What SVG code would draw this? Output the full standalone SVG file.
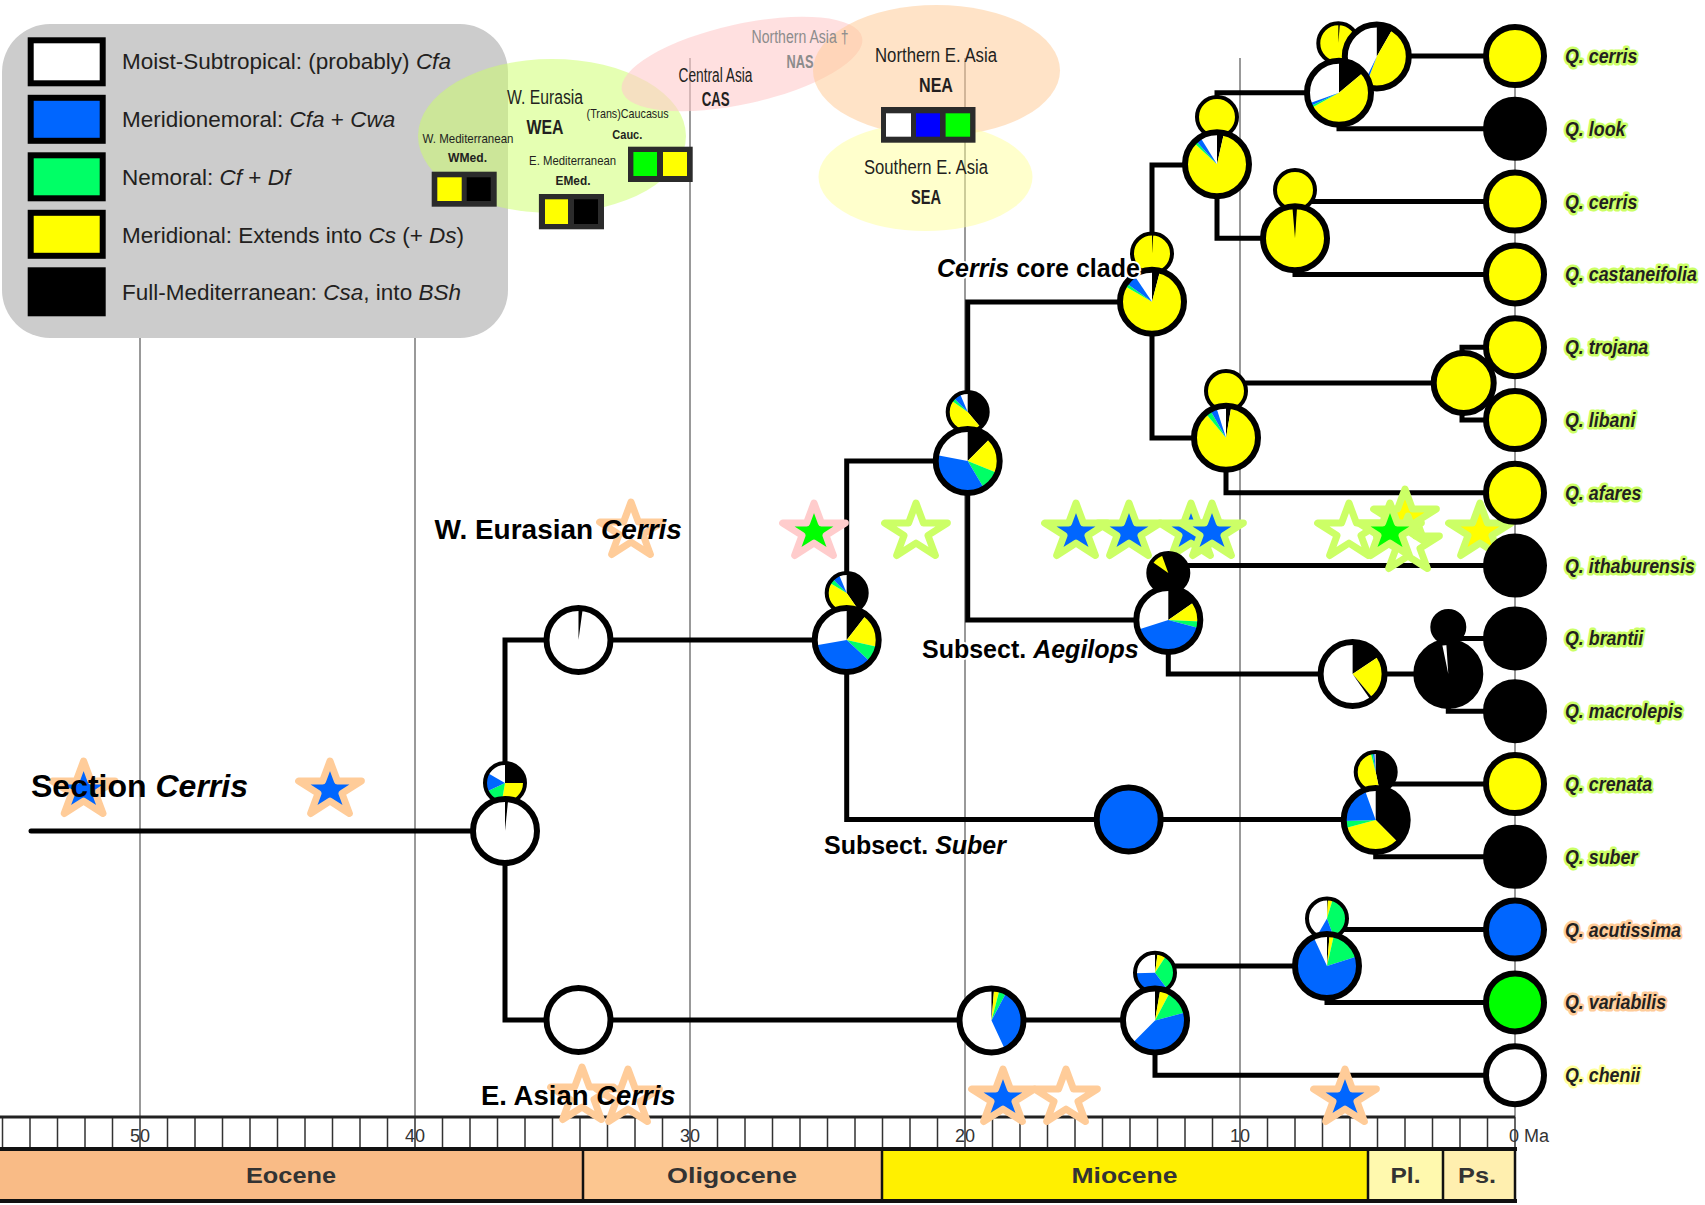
<svg xmlns="http://www.w3.org/2000/svg" width="1705" height="1205" viewBox="0 0 1705 1205">
<style>
text{font-family:"Liberation Sans",Arial,sans-serif;fill:#231f20}
.grid{stroke:#808080;stroke-width:1.6}
.conn{fill:none;stroke:#000;stroke-width:5;stroke-linejoin:miter}
.ring{fill:none;stroke:#000;stroke-width:6}
.ring4{fill:none;stroke:#000;stroke-width:4}
.rf{stroke:#000;stroke-width:6}
.rf4{stroke:#000;stroke-width:4}
.L{fill:none;stroke-width:32}
.S{fill:none;stroke-width:20}
.k{stroke:#000}.y{stroke:#ffff00}.g{stroke:#00ff66}.b{stroke:#0066ff}.w{stroke:#fff}
.tip{stroke:#000;stroke-width:6}
.lbl{font-weight:bold;fill:#000}
.halo{stroke:#fff;stroke-width:4;stroke-linejoin:round;paint-order:stroke}
.tipl{font-weight:bold;font-style:italic;font-size:21px;stroke-width:5;stroke-linejoin:round;paint-order:stroke}
.hg{stroke:#ccff66}.ho{stroke:#ffcc99}.hy{stroke:#ffff99}
.reg{font-size:20px}
.regb{font-size:20px;font-weight:bold}
.sm{font-size:13.5px}
.smb{font-size:13.5px;font-weight:bold}
.leg{font-size:22.5px}
.sw{stroke:#000;stroke-width:6}
.box{fill:#2b2b2b}
.tick{font-size:18px;fill:#333}
.ep{font-size:22px;font-weight:bold;fill:#333}
.st{stroke-width:7;stroke-linejoin:round}
</style>
<defs>
<path id="star" d="M0,-29 L7.41,-8.96 L31.39,-8.96 L11.98,3.42 L19.4,23.46 L0,11.08 L-19.4,23.46 L-11.98,3.42 L-31.39,-8.96 L-7.41,-8.96 Z"/>
</defs>
<rect width="1705" height="1205" fill="#fff"/>

<g id="gridlines">
<path class="grid" d="M140 58V1117 M415 58V1117 M690 58V1117 M965 58V1117 M1240 58V1117 M1515 58V1117"/>
</g>

<g id="axis">
<rect x="0" y="1117" width="1515" height="32" fill="#fff"/>
<path stroke="#333" stroke-width="1.5" d="M1515 1117V1149 M1487.5 1117V1149 M1460 1117V1149 M1432.5 1117V1149 M1405 1117V1149 M1377.5 1117V1149 M1350 1117V1149 M1322.5 1117V1149 M1295 1117V1149 M1267.5 1117V1149 M1240 1117V1149 M1212.5 1117V1149 M1185 1117V1149 M1157.5 1117V1149 M1130 1117V1149 M1102.5 1117V1149 M1075 1117V1149 M1047.5 1117V1149 M1020 1117V1149 M992.5 1117V1149 M965 1117V1149 M937.5 1117V1149 M910 1117V1149 M882.5 1117V1149 M855 1117V1149 M827.5 1117V1149 M800 1117V1149 M772.5 1117V1149 M745 1117V1149 M717.5 1117V1149 M690 1117V1149 M662.5 1117V1149 M635 1117V1149 M607.5 1117V1149 M580 1117V1149 M552.5 1117V1149 M525 1117V1149 M497.5 1117V1149 M470 1117V1149 M442.5 1117V1149 M415 1117V1149 M387.5 1117V1149 M360 1117V1149 M332.5 1117V1149 M305 1117V1149 M277.5 1117V1149 M250 1117V1149 M222.5 1117V1149 M195 1117V1149 M167.5 1117V1149 M140 1117V1149 M112.5 1117V1149 M85 1117V1149 M57.5 1117V1149 M30 1117V1149 M2.5 1117V1149"/>
<path stroke="#222" stroke-width="3" d="M0 1117H1515"/>
<text class="tick" x="140" y="1142" text-anchor="middle">50</text>
<text class="tick" x="415" y="1142" text-anchor="middle">40</text>
<text class="tick" x="690" y="1142" text-anchor="middle">30</text>
<text class="tick" x="965" y="1142" text-anchor="middle">20</text>
<text class="tick" x="1240" y="1142" text-anchor="middle">10</text>
<text class="tick" x="1509" y="1142">0 Ma</text>
<rect x="0" y="1149" width="583" height="51" fill="#f9bb86"/>
<rect x="583" y="1149" width="299" height="51" fill="#fcc690"/>
<rect x="882" y="1149" width="486" height="51" fill="#fff000"/>
<rect x="1368" y="1149" width="75" height="51" fill="#fff9ae"/>
<rect x="1443" y="1149" width="72" height="51" fill="#ffefaf"/>
<path stroke="#111" stroke-width="4" fill="none" d="M0 1149H1517 M0 1201H1517"/>
<path stroke="#111" stroke-width="2.5" d="M583 1149V1201 M882 1149V1201 M1368 1149V1201 M1443 1149V1201 M1515 1149V1201"/>
<text class="ep" x="291" y="1183" text-anchor="middle" textLength="90" lengthAdjust="spacingAndGlyphs">Eocene</text>
<text class="ep" x="732" y="1183" text-anchor="middle" textLength="130" lengthAdjust="spacingAndGlyphs">Oligocene</text>
<text class="ep" x="1124.5" y="1183" text-anchor="middle" textLength="106" lengthAdjust="spacingAndGlyphs">Miocene</text>
<text class="ep" x="1405.5" y="1183" text-anchor="middle" textLength="30" lengthAdjust="spacingAndGlyphs">Pl.</text>
<text class="ep" x="1477" y="1183" text-anchor="middle" textLength="38" lengthAdjust="spacingAndGlyphs">Ps.</text>
</g>

<g id="legend">
<rect x="2" y="24" width="506" height="314" rx="48" fill="#cccccc"/>
<rect class="sw" x="30.7" y="40.3" width="72" height="43" fill="#fff"/>
<rect class="sw" x="30.7" y="97.8" width="72" height="43" fill="#0066ff"/>
<rect class="sw" x="30.7" y="155.3" width="72" height="43" fill="#00ff66"/>
<rect class="sw" x="30.7" y="212.8" width="72" height="43" fill="#ffff00"/>
<rect class="sw" x="30.7" y="270.3" width="72" height="43" fill="#000"/>
<text class="leg" x="122" y="69">Moist-Subtropical: (probably) <tspan font-style="italic">Cfa</tspan></text>
<text class="leg" x="122" y="127">Meridionemoral: <tspan font-style="italic">Cfa</tspan> + <tspan font-style="italic">Cwa</tspan></text>
<text class="leg" x="122" y="185">Nemoral: <tspan font-style="italic">Cf</tspan> + <tspan font-style="italic">Df</tspan></text>
<text class="leg" x="122" y="242.5">Meridional: Extends into <tspan font-style="italic">Cs</tspan> (+ <tspan font-style="italic">Ds</tspan>)</text>
<text class="leg" x="122" y="300">Full-Mediterranean: <tspan font-style="italic">Csa</tspan>, into <tspan font-style="italic">BSh</tspan></text>
</g>

<g id="regions">
<ellipse cx="552" cy="136" rx="134" ry="77" fill="#ccff66" opacity="0.5"/>
<ellipse cx="742" cy="64" rx="123" ry="40" fill="#ffcccc" opacity="0.6" transform="rotate(-12.5 742 64)"/>
<ellipse cx="936.5" cy="70.5" rx="123.5" ry="65.5" fill="#ffcc99" opacity="0.55"/>
<ellipse cx="925.5" cy="177" rx="107" ry="54" fill="#ffff99" opacity="0.5"/>
<g id="box-wmed"><rect class="box" x="431.7" y="171.7" width="65" height="35"/><rect x="437.3" y="177.3" width="24.4" height="23.7" fill="#ffff00"/><rect x="466.7" y="177.3" width="24" height="23.7" fill="#000"/></g>
<g id="box-emed"><rect class="box" x="538.9" y="194" width="65.1" height="35.3"/><rect x="545" y="199.3" width="23" height="24.7" fill="#ffff00"/><rect x="574" y="199.3" width="24" height="24.7" fill="#000"/></g>
<g id="box-cauc"><rect class="box" x="628" y="146.7" width="64.7" height="35.3"/><rect x="633.4" y="152" width="23.6" height="24" fill="#00ff00"/><rect x="663" y="152" width="24" height="24" fill="#ffff00"/></g>
<g id="box-nea"><rect class="box" x="881" y="107" width="94.5" height="35.7"/><rect x="886" y="113.3" width="25" height="23.4" fill="#fff"/><rect x="916" y="113.3" width="24" height="23.4" fill="#0000ff"/><rect x="945.6" y="113.3" width="24.5" height="23.4" fill="#00ff00"/></g>
<text class="reg" x="545" y="104" text-anchor="middle" textLength="76" lengthAdjust="spacingAndGlyphs">W. Eurasia</text>
<text class="regb" x="545" y="134" text-anchor="middle" textLength="37" lengthAdjust="spacingAndGlyphs">WEA</text>
<text class="sm" x="468" y="142.5" text-anchor="middle" textLength="91" lengthAdjust="spacingAndGlyphs">W. Mediterranean</text>
<text class="smb" x="467.5" y="161.7" text-anchor="middle" textLength="39" lengthAdjust="spacingAndGlyphs">WMed.</text>
<text class="sm" x="627.6" y="118.3" text-anchor="middle" textLength="82" lengthAdjust="spacingAndGlyphs">(Trans)Caucasus</text>
<text class="smb" x="627.3" y="139.3" text-anchor="middle" textLength="30" lengthAdjust="spacingAndGlyphs">Cauc.</text>
<text class="sm" x="572.6" y="165" text-anchor="middle" textLength="87" lengthAdjust="spacingAndGlyphs">E. Mediterranean</text>
<text class="smb" x="573" y="185" text-anchor="middle" textLength="35" lengthAdjust="spacingAndGlyphs">EMed.</text>
<text class="reg" x="715.5" y="81.7" font-size="18.5" text-anchor="middle" textLength="74" lengthAdjust="spacingAndGlyphs">Central Asia</text>
<text class="regb" x="715.7" y="106" font-size="18.5" text-anchor="middle" textLength="28" lengthAdjust="spacingAndGlyphs">CAS</text>
<text class="reg" x="800" y="43.3" style="fill:#8c8c8c;font-size:18px" text-anchor="middle" textLength="97" lengthAdjust="spacingAndGlyphs">Northern Asia †</text>
<text class="regb" x="800" y="68.3" style="fill:#8c8c8c;font-size:18px" text-anchor="middle" textLength="27" lengthAdjust="spacingAndGlyphs">NAS</text>
<text class="reg" x="936" y="61.7" text-anchor="middle" textLength="122" lengthAdjust="spacingAndGlyphs">Northern E. Asia</text>
<text class="regb" x="936" y="91.7" text-anchor="middle" textLength="34" lengthAdjust="spacingAndGlyphs">NEA</text>
<text class="reg" x="926" y="174" text-anchor="middle" textLength="124" lengthAdjust="spacingAndGlyphs">Southern E. Asia</text>
<text class="regb" x="926" y="204" text-anchor="middle" textLength="30" lengthAdjust="spacingAndGlyphs">SEA</text>
</g>

<g id="connectors">
<path class="conn" stroke-linecap="round" d="M31 831H505"/>
<path class="conn" d="M846.7 640H505V1020H1155"/>
<path class="conn" d="M967.7 461H846.7V819.5H1375.7"/>
<path class="conn" d="M1515 784H1375.7V856.8H1515"/>
<path class="conn" d="M1152 302H967.7V620H1168.3"/>
<path class="conn" d="M1217 165H1152V438H1226"/>
<path class="conn" d="M1339 92.7H1217V238.3H1295"/>
<path class="conn" d="M1515 56H1339V128.8H1515"/>
<path class="conn" d="M1515 201.6H1295V274.4H1515"/>
<path class="conn" d="M1463.7 383H1226V492.8H1515"/>
<path class="conn" d="M1515 347.2H1462V420H1515"/>
<path class="conn" d="M1515 565.6H1168.3V674H1448.3"/>
<path class="conn" d="M1515 638.4H1448.3V711.2H1515"/>
<path class="conn" d="M1327 966H1155V1075.2H1515"/>
<path class="conn" d="M1515 929.6H1327V1002.4H1515"/>
</g>

<g id="stars" class="st">
<use href="#star" x="83.6" y="790" fill="#0066ff" stroke="#ffcc99"/>
<use href="#star" x="330" y="790" fill="#0066ff" stroke="#ffcc99"/>
<use href="#star" x="631" y="531" fill="#fff" stroke="#ffcc99"/>
<use href="#star" x="814" y="532" fill="#00ff00" stroke="#ffcccc"/>
<use href="#star" x="916" y="532" fill="#fff" stroke="#ccff66"/>
<use href="#star" x="1076" y="532" fill="#0066ff" stroke="#ccff66"/>
<use href="#star" x="1129" y="532" fill="#0066ff" stroke="#ccff66"/>
<use href="#star" x="1191" y="532" fill="#0066ff" stroke="#ccff66"/>
<use href="#star" x="1212" y="532" fill="#0066ff" stroke="#ccff66"/>
<use href="#star" x="1480" y="532" fill="#ffff00" stroke="#ccff66"/>
<use href="#star" x="1349" y="532" fill="#fff" stroke="#ccff66"/>
<use href="#star" x="1405" y="518" fill="#ffff00" stroke="#ccff66"/>
<use href="#star" x="1408" y="545" fill="#fff" fill-opacity="0" stroke="#ccff66"/>
<use href="#star" x="1390" y="532" fill="#00ff00" stroke="#ccff66"/>
<use href="#star" x="582" y="1096" fill="#fff" stroke="#ffcc99"/>
<use href="#star" x="628" y="1098" fill="#fff" stroke="#ffcc99"/>
<use href="#star" x="1003" y="1098" fill="#0066ff" stroke="#ffcc99"/>
<use href="#star" x="1066" y="1098" fill="#fff" stroke="#ffcc99"/>
<use href="#star" x="1345" y="1098" fill="#0066ff" stroke="#ffcc99"/>
</g>

<g id="node-root-small" transform="translate(505 783)"><circle r="20" fill="#fff"/>
<circle r="10" class="S k" pathLength="360" transform="rotate(-90)" stroke-dasharray="90 360"/>
<circle r="10" class="S y" pathLength="360" transform="rotate(-90)" stroke-dasharray="100 360" stroke-dashoffset="-90"/>
<circle r="10" class="S g" pathLength="360" transform="rotate(-90)" stroke-dasharray="55 360" stroke-dashoffset="-190"/>
<circle r="10" class="S b" pathLength="360" transform="rotate(-90)" stroke-dasharray="55 360" stroke-dashoffset="-245"/>
<circle r="20" class="ring4"/></g>
<g id="node-root" transform="translate(505 831)"><circle r="32" fill="#fff"/>
<circle r="16" class="L k" pathLength="360" transform="rotate(-90)" stroke-dasharray="6 360"/>
<circle r="32" class="ring"/></g>

<g id="node-weurasia" transform="translate(578.5 640)"><circle r="32" fill="#fff"/>
<circle r="16" class="L k" pathLength="360" transform="rotate(-90)" stroke-dasharray="8 360"/>
<circle r="32" class="ring"/></g>

<g id="node-easia" transform="translate(578.5 1020)"><circle r="32" fill="#fff" class="rf"/></g>

<g id="node-b1-small" transform="translate(846.7 593)"><circle r="20" fill="#fff"/>
<circle r="10" class="S k" pathLength="360" transform="rotate(-90)" stroke-dasharray="145 360"/>
<circle r="10" class="S y" pathLength="360" transform="rotate(-90)" stroke-dasharray="156 360" stroke-dashoffset="-145"/>
<circle r="10" class="S g" pathLength="360" transform="rotate(-90)" stroke-dasharray="14 360" stroke-dashoffset="-301"/>
<circle r="10" class="S b" pathLength="360" transform="rotate(-90)" stroke-dasharray="22 360" stroke-dashoffset="-315"/>
<circle r="20" class="ring4"/></g>
<g id="node-b1" transform="translate(846.7 640)"><circle r="32" fill="#fff"/>
<circle r="16" class="L k" pathLength="360" transform="rotate(-90)" stroke-dasharray="38 360"/>
<circle r="16" class="L y" pathLength="360" transform="rotate(-90)" stroke-dasharray="65 360" stroke-dashoffset="-38"/>
<circle r="16" class="L g" pathLength="360" transform="rotate(-90)" stroke-dasharray="30 360" stroke-dashoffset="-103"/>
<circle r="16" class="L b" pathLength="360" transform="rotate(-90)" stroke-dasharray="127 360" stroke-dashoffset="-133"/>
<circle r="32" class="ring"/></g>

<g id="node-n-small" transform="translate(967.7 412)"><circle r="20" fill="#fff"/>
<circle r="10" class="S k" pathLength="360" transform="rotate(-90)" stroke-dasharray="140 360"/>
<circle r="10" class="S y" pathLength="360" transform="rotate(-90)" stroke-dasharray="165 360" stroke-dashoffset="-140"/>
<circle r="10" class="S g" pathLength="360" transform="rotate(-90)" stroke-dasharray="10 360" stroke-dashoffset="-305"/>
<circle r="10" class="S b" pathLength="360" transform="rotate(-90)" stroke-dasharray="22 360" stroke-dashoffset="-315"/>
<circle r="20" class="ring4"/></g>
<g id="node-n" transform="translate(967.7 461)"><circle r="32" fill="#fff"/>
<circle r="16" class="L k" pathLength="360" transform="rotate(-90)" stroke-dasharray="45 360"/>
<circle r="16" class="L y" pathLength="360" transform="rotate(-90)" stroke-dasharray="67 360" stroke-dashoffset="-45"/>
<circle r="16" class="L g" pathLength="360" transform="rotate(-90)" stroke-dasharray="37 360" stroke-dashoffset="-112"/>
<circle r="16" class="L b" pathLength="360" transform="rotate(-90)" stroke-dasharray="132 360" stroke-dashoffset="-149"/>
<circle r="32" class="ring"/></g>

<g id="node-core-small" transform="translate(1152 253.5)"><circle r="20" fill="#ffff00"/>
<circle r="10" class="S k" pathLength="360" transform="rotate(-90)" stroke-dasharray="4 360"/>
<circle r="20" class="ring4"/></g>
<g id="node-core" transform="translate(1152 301.7)"><circle r="32" fill="#fff"/>
<circle r="16" class="L k" pathLength="360" transform="rotate(-90)" stroke-dasharray="15 360"/>
<circle r="16" class="L y" pathLength="360" transform="rotate(-90)" stroke-dasharray="285 360" stroke-dashoffset="-15"/>
<circle r="16" class="L g" pathLength="360" transform="rotate(-90)" stroke-dasharray="6 360" stroke-dashoffset="-300"/>
<circle r="16" class="L b" pathLength="360" transform="rotate(-90)" stroke-dasharray="20 360" stroke-dashoffset="-306"/>
<circle r="32" class="ring"/></g>

<g id="node-a-small" transform="translate(1217 117)"><circle r="20" fill="#ffff00" class="rf4"/></g>
<g id="node-a" transform="translate(1217 164.3)"><circle r="32" fill="#fff"/>
<circle r="16" class="L k" pathLength="360" transform="rotate(-90)" stroke-dasharray="13 360"/>
<circle r="16" class="L y" pathLength="360" transform="rotate(-90)" stroke-dasharray="300 360" stroke-dashoffset="-13"/>
<circle r="16" class="L g" pathLength="360" transform="rotate(-90)" stroke-dasharray="5 360" stroke-dashoffset="-313"/>
<circle r="16" class="L b" pathLength="360" transform="rotate(-90)" stroke-dasharray="10 360" stroke-dashoffset="-318"/>
<circle r="32" class="ring"/></g>

<g id="node-b-small" transform="translate(1338.3 43.3)"><circle r="20" fill="#ffff00"/>
<circle r="10" class="S k" pathLength="360" transform="rotate(-90)" stroke-dasharray="5 360"/>
<circle r="20" class="ring4"/></g>
<g id="node-b-upper" transform="translate(1376.8 56.5)"><circle r="32" fill="#fff"/>
<circle r="16" class="L k" pathLength="360" transform="rotate(-90)" stroke-dasharray="30 360"/>
<circle r="16" class="L y" pathLength="360" transform="rotate(-90)" stroke-dasharray="171 360" stroke-dashoffset="-30"/>
<circle r="16" class="L b" pathLength="360" transform="rotate(-90)" stroke-dasharray="5 360" stroke-dashoffset="-201"/>
<circle r="32" class="ring"/></g>
<g id="node-b" transform="translate(1339 92.7)"><circle r="32" fill="#fff"/>
<circle r="16" class="L k" pathLength="360" transform="rotate(-90)" stroke-dasharray="50 360"/>
<circle r="16" class="L y" pathLength="360" transform="rotate(-90)" stroke-dasharray="191 360" stroke-dashoffset="-50"/>
<circle r="16" class="L g" pathLength="360" transform="rotate(-90)" stroke-dasharray="4 360" stroke-dashoffset="-241"/>
<circle r="16" class="L b" pathLength="360" transform="rotate(-90)" stroke-dasharray="5 360" stroke-dashoffset="-245"/>
<circle r="32" class="ring"/></g>

<g id="node-c-small" transform="translate(1295 190)"><circle r="20" fill="#ffff00" class="rf4"/></g>
<g id="node-c" transform="translate(1295 238.3)"><circle r="32" fill="#ffff00"/>
<circle r="16" class="L k" pathLength="360" transform="rotate(-90)" stroke-dasharray="5 360" stroke-dashoffset="-355"/>
<circle r="16" class="L k" pathLength="360" transform="rotate(-90)" stroke-dasharray="4 360"/>
<circle r="32" class="ring"/></g>

<g id="node-d-small" transform="translate(1226 391)"><circle r="20" fill="#ffff00" class="rf4"/></g>
<g id="node-d" transform="translate(1226 437.7)"><circle r="32" fill="#fff"/>
<circle r="16" class="L k" pathLength="360" transform="rotate(-90)" stroke-dasharray="10 360"/>
<circle r="16" class="L y" pathLength="360" transform="rotate(-90)" stroke-dasharray="310 360" stroke-dashoffset="-10"/>
<circle r="16" class="L g" pathLength="360" transform="rotate(-90)" stroke-dasharray="10 360" stroke-dashoffset="-320"/>
<circle r="16" class="L b" pathLength="360" transform="rotate(-90)" stroke-dasharray="12 360" stroke-dashoffset="-330"/>
<circle r="32" class="ring"/></g>

<g id="node-e" transform="translate(1463.7 383)"><circle r="30" fill="#ffff00" class="rf"/></g>

<g id="node-f-small" transform="translate(1168.3 573)"><circle r="20" fill="#000"/>
<circle r="10" class="S y" pathLength="360" transform="rotate(-90)" stroke-dasharray="35 360" stroke-dashoffset="-305"/>
<circle r="20" class="ring4"/></g>
<g id="node-f" transform="translate(1168.3 620)"><circle r="32" fill="#fff"/>
<circle r="16" class="L k" pathLength="360" transform="rotate(-90)" stroke-dasharray="55 360"/>
<circle r="16" class="L y" pathLength="360" transform="rotate(-90)" stroke-dasharray="38 360" stroke-dashoffset="-55"/>
<circle r="16" class="L g" pathLength="360" transform="rotate(-90)" stroke-dasharray="12 360" stroke-dashoffset="-93"/>
<circle r="16" class="L b" pathLength="360" transform="rotate(-90)" stroke-dasharray="147 360" stroke-dashoffset="-105"/>
<circle r="32" class="ring"/></g>

<g id="node-g" transform="translate(1352.6 674)"><circle r="32" fill="#fff"/>
<circle r="16" class="L k" pathLength="360" transform="rotate(-90)" stroke-dasharray="56 360"/>
<circle r="16" class="L y" pathLength="360" transform="rotate(-90)" stroke-dasharray="84 360" stroke-dashoffset="-56"/>
<circle r="16" class="L k" pathLength="360" transform="rotate(-90)" stroke-dasharray="5 360" stroke-dashoffset="-140"/>
<circle r="32" class="ring"/></g>

<g id="node-h-small" transform="translate(1448.3 627)"><circle r="16" fill="#000" class="rf4"/></g>
<g id="node-h" transform="translate(1448.3 674)"><circle r="32" fill="#000"/>
<circle r="16" class="L w" pathLength="360" transform="rotate(-90)" stroke-dasharray="8 360" stroke-dashoffset="-348"/>
<circle r="32" class="ring"/></g>

<g id="node-suber1" transform="translate(1128.7 819.5)"><circle r="32" fill="#0066ff" class="rf"/></g>

<g id="node-s-small" transform="translate(1375.7 772)"><circle r="20" fill="#fff"/>
<circle r="10" class="S k" pathLength="360" transform="rotate(-90)" stroke-dasharray="168 360"/>
<circle r="10" class="S y" pathLength="360" transform="rotate(-90)" stroke-dasharray="177 360" stroke-dashoffset="-168"/>
<circle r="10" class="S g" pathLength="360" transform="rotate(-90)" stroke-dasharray="6 360" stroke-dashoffset="-345"/>
<circle r="10" class="S b" pathLength="360" transform="rotate(-90)" stroke-dasharray="5 360" stroke-dashoffset="-351"/>
<circle r="20" class="ring4"/></g>
<g id="node-s" transform="translate(1375.7 820)"><circle r="32" fill="#fff"/>
<circle r="16" class="L k" pathLength="360" transform="rotate(-90)" stroke-dasharray="135 360"/>
<circle r="16" class="L y" pathLength="360" transform="rotate(-90)" stroke-dasharray="120 360" stroke-dashoffset="-135"/>
<circle r="16" class="L g" pathLength="360" transform="rotate(-90)" stroke-dasharray="13 360" stroke-dashoffset="-255"/>
<circle r="16" class="L b" pathLength="360" transform="rotate(-90)" stroke-dasharray="72 360" stroke-dashoffset="-268"/>
<circle r="32" class="ring"/></g>

<g id="node-e1" transform="translate(991.5 1020.5)"><circle r="32" fill="#fff"/>
<circle r="16" class="L k" pathLength="360" transform="rotate(-90)" stroke-dasharray="5 360"/>
<circle r="16" class="L y" pathLength="360" transform="rotate(-90)" stroke-dasharray="10 360" stroke-dashoffset="-5"/>
<circle r="16" class="L g" pathLength="360" transform="rotate(-90)" stroke-dasharray="13 360" stroke-dashoffset="-15"/>
<circle r="16" class="L b" pathLength="360" transform="rotate(-90)" stroke-dasharray="127 360" stroke-dashoffset="-28"/>
<circle r="32" class="ring"/></g>

<g id="node-e2-small" transform="translate(1155 972.7)"><circle r="20" fill="#fff"/>
<circle r="10" class="S k" pathLength="360" transform="rotate(-90)" stroke-dasharray="8 360"/>
<circle r="10" class="S y" pathLength="360" transform="rotate(-90)" stroke-dasharray="25 360" stroke-dashoffset="-8"/>
<circle r="10" class="S g" pathLength="360" transform="rotate(-90)" stroke-dasharray="110 360" stroke-dashoffset="-33"/>
<circle r="10" class="S b" pathLength="360" transform="rotate(-90)" stroke-dasharray="125 360" stroke-dashoffset="-143"/>
<circle r="20" class="ring4"/></g>
<g id="node-e2" transform="translate(1155 1020.5)"><circle r="32" fill="#fff"/>
<circle r="16" class="L k" pathLength="360" transform="rotate(-90)" stroke-dasharray="10 360"/>
<circle r="16" class="L y" pathLength="360" transform="rotate(-90)" stroke-dasharray="18 360" stroke-dashoffset="-10"/>
<circle r="16" class="L g" pathLength="360" transform="rotate(-90)" stroke-dasharray="47 360" stroke-dashoffset="-28"/>
<circle r="16" class="L b" pathLength="360" transform="rotate(-90)" stroke-dasharray="150 360" stroke-dashoffset="-75"/>
<circle r="32" class="ring"/></g>

<g id="node-av-small" transform="translate(1327 918.5)"><circle r="20" fill="#fff"/>
<circle r="10" class="S k" pathLength="360" transform="rotate(-90)" stroke-dasharray="3 360"/>
<circle r="10" class="S y" pathLength="360" transform="rotate(-90)" stroke-dasharray="14 360" stroke-dashoffset="-3"/>
<circle r="10" class="S g" pathLength="360" transform="rotate(-90)" stroke-dasharray="143 360" stroke-dashoffset="-17"/>
<circle r="10" class="S b" pathLength="360" transform="rotate(-90)" stroke-dasharray="50 360" stroke-dashoffset="-160"/>
<circle r="20" class="ring4"/></g>
<g id="node-av" transform="translate(1327 966)"><circle r="32" fill="#fff"/>
<circle r="16" class="L k" pathLength="360" transform="rotate(-90)" stroke-dasharray="5 360"/>
<circle r="16" class="L y" pathLength="360" transform="rotate(-90)" stroke-dasharray="8 360" stroke-dashoffset="-5"/>
<circle r="16" class="L g" pathLength="360" transform="rotate(-90)" stroke-dasharray="59 360" stroke-dashoffset="-13"/>
<circle r="16" class="L b" pathLength="360" transform="rotate(-90)" stroke-dasharray="263 360" stroke-dashoffset="-72"/>
<circle r="32" class="ring"/></g>

<g id="tips">
<circle class="tip" cx="1515" cy="56" r="29" fill="#ffff00"/>
<circle class="tip" cx="1515" cy="128.8" r="29" fill="#000"/>
<circle class="tip" cx="1515" cy="201.6" r="29" fill="#ffff00"/>
<circle class="tip" cx="1515" cy="274.4" r="29" fill="#ffff00"/>
<circle class="tip" cx="1515" cy="347.2" r="29" fill="#ffff00"/>
<circle class="tip" cx="1515" cy="420" r="29" fill="#ffff00"/>
<circle class="tip" cx="1515" cy="492.8" r="29" fill="#ffff00"/>
<circle class="tip" cx="1515" cy="565.6" r="29" fill="#000"/>
<circle class="tip" cx="1515" cy="638.4" r="29" fill="#000"/>
<circle class="tip" cx="1515" cy="711.2" r="29" fill="#000"/>
<circle class="tip" cx="1515" cy="784" r="29" fill="#ffff00"/>
<circle class="tip" cx="1515" cy="856.8" r="29" fill="#000"/>
<circle class="tip" cx="1515" cy="929.6" r="29" fill="#0066ff"/>
<circle class="tip" cx="1515" cy="1002.4" r="29" fill="#00ff00"/>
<circle class="tip" cx="1515" cy="1075.2" r="29" fill="#fff"/>
</g>

<g id="tip-labels">
<text class="tipl hg" transform="translate(1565 63) scale(0.85 1)">Q. cerris</text>
<text class="tipl hg" transform="translate(1565 135.8) scale(0.85 1)">Q. look</text>
<text class="tipl hg" transform="translate(1565 208.6) scale(0.85 1)">Q. cerris</text>
<text class="tipl hg" transform="translate(1565 281.4) scale(0.85 1)">Q. castaneifolia</text>
<text class="tipl hg" transform="translate(1565 354.2) scale(0.85 1)">Q. trojana</text>
<text class="tipl hg" transform="translate(1565 427) scale(0.85 1)">Q. libani</text>
<text class="tipl hg" transform="translate(1565 499.8) scale(0.85 1)">Q. afares</text>
<text class="tipl hg" transform="translate(1565 572.6) scale(0.85 1)">Q. ithaburensis</text>
<text class="tipl hg" transform="translate(1565 645.4) scale(0.85 1)">Q. brantii</text>
<text class="tipl hg" transform="translate(1565 718.2) scale(0.85 1)">Q. macrolepis</text>
<text class="tipl hg" transform="translate(1565 791) scale(0.85 1)">Q. crenata</text>
<text class="tipl hg" transform="translate(1565 863.8) scale(0.85 1)">Q. suber</text>
<text class="tipl ho" transform="translate(1565 936.6) scale(0.85 1)">Q. acutissima</text>
<text class="tipl ho" transform="translate(1565 1009.4) scale(0.85 1)">Q. variabilis</text>
<text class="tipl hy" transform="translate(1565 1082.2) scale(0.85 1)">Q. chenii</text>
</g>

<g id="clade-labels">
<text class="lbl" x="31" y="797" font-size="32">Section <tspan font-style="italic">Cerris</tspan></text>
<text class="lbl" x="434.5" y="539" font-size="28">W. Eurasian <tspan font-style="italic">Cerris</tspan></text>
<text class="lbl halo" x="937" y="277" font-size="25"><tspan font-style="italic">Cerris</tspan> core clade</text>
<text class="lbl halo" x="922" y="658" font-size="25">Subsect. <tspan font-style="italic">Aegilops</tspan></text>
<text class="lbl" x="824" y="854" font-size="25">Subsect. <tspan font-style="italic">Suber</tspan></text>
<text class="lbl" x="481" y="1105" font-size="27.5">E. Asian <tspan font-style="italic">Cerris</tspan></text>
</g>
</svg>
